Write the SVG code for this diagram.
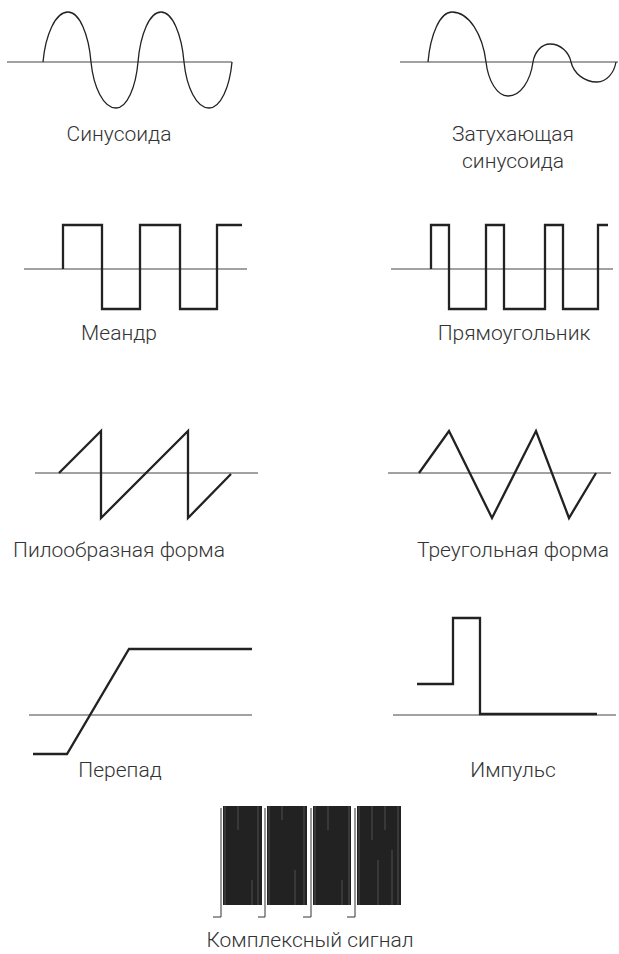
<svg xmlns="http://www.w3.org/2000/svg" width="619" height="954" viewBox="0 0 619 954">
<style>
.axis{stroke:#444;stroke-width:1;fill:none}
.wave{stroke:#222;stroke-width:1.3;fill:none}
.thick{stroke:#222;stroke-width:2.3;fill:none;stroke-linejoin:miter}
.lbl{font-family:Roboto,"Liberation Sans",sans-serif;font-weight:300;font-size:21px;fill:#333;text-anchor:middle}
.blk{fill:#222}
.streak{stroke:#9a9a9a;stroke-width:0.7;opacity:0.55}
.brk{stroke:#333;stroke-width:1;fill:none}
</style>
<rect width="619" height="954" fill="#fff"/>
<g id="sine">
<line class="axis" x1="7" y1="62" x2="232" y2="62"/>
<path class="wave" d="M43,62 C45.5,34.5 55.5,12 68,12 C79.5,12 88.7,34.5 91,62 C93.5,87.3 103.5,108 116,108 C127,108 135.8,87.3 138,62 C140.3,34.5 149.5,12 161,12 C172.5,12 181.7,34.5 184,62 C186.5,87.3 196.5,108 209,108 C220.5,108 229.7,87.3 232,62"/>
<text class="lbl" x="119" y="141">Синусоида</text>
</g>
<g id="damped">
<line class="axis" x1="400" y1="62" x2="618" y2="62"/>
<path class="wave" d="M428,62 C430.4,34.5 440,12 452,12 C469,12 482.6,34.5 486,62 C488.2,80.7 497,96 508,96 C520.5,96 530.5,80.7 533,62 C534.7,52.1 541.5,44 550,44 C560.5,44 568.9,52.1 571,62 C573.6,73 584,82 597,82 C606.5,82 614.1,73 616,62"/>
<text class="lbl" x="513" y="141">Затухающая</text>
<text class="lbl" x="513" y="168">синусоида</text>
</g>
<g id="meander">
<line class="axis" x1="24" y1="269" x2="247" y2="269"/>
<polyline class="thick" points="63,269 63,225 102,225 102,309 140,309 140,225 180,225 180,309 217,309 217,225 242,225"/>
<text class="lbl" x="119" y="340">Меандр</text>
</g>
<g id="rectangle">
<line class="axis" x1="391" y1="269" x2="613" y2="269"/>
<polyline class="thick" points="431,269 431,225 449,225 449,309 486,309 486,225 504,225 504,309 545,309 545,225 563,225 563,309 598,309 598,225 608,225"/>
<text class="lbl" x="514" y="340">Прямоугольник</text>
</g>
<g id="sawtooth">
<line class="axis" x1="35" y1="473" x2="258" y2="473"/>
<polyline class="thick" points="59,473 101,431 101,518 188,431 188,518 231,474"/>
<text class="lbl" x="119" y="557">Пилообразная форма</text>
</g>
<g id="triangle">
<line class="axis" x1="388" y1="473" x2="611" y2="473"/>
<polyline class="thick" points="419,473 449,431 492,518 536,431 569,518 596,473"/>
<text class="lbl" x="513" y="557">Треугольная форма</text>
</g>
<g id="step">
<line class="axis" x1="29" y1="715" x2="252" y2="715"/>
<polyline class="thick" points="33,754 67,754 129,649 252,649"/>
<text class="lbl" x="120" y="777">Перепад</text>
</g>
<g id="impulse">
<line class="axis" x1="393" y1="715" x2="616" y2="715"/>
<polyline class="thick" points="417,684 453,684 453,618 480,618 480,714 597,714"/>
<text class="lbl" x="513" y="777">Импульс</text>
</g>
<g id="complex">
<rect class="blk" x="223" y="806" width="39" height="99"/>
<rect class="blk" x="267" y="806" width="40" height="99"/>
<rect class="blk" x="313" y="806" width="38" height="99"/>
<rect class="blk" x="357" y="806" width="44" height="99"/>
<polyline class="brk" points="213,917 221,917 221,808"/>
<polyline class="brk" points="258,917 265,917 265,808"/>
<polyline class="brk" points="303,917 311,917 311,808"/>
<polyline class="brk" points="347,917 355,917 355,808"/>
<g class="streak">
<line x1="225" y1="806" x2="225" y2="905"/>
<line x1="238" y1="806" x2="238" y2="830"/>
<line x1="252" y1="880" x2="252" y2="905"/>
<line x1="258" y1="806" x2="258" y2="905"/>
<line x1="269" y1="806" x2="269" y2="905"/>
<line x1="282" y1="806" x2="282" y2="820"/>
<line x1="295" y1="870" x2="295" y2="905"/>
<line x1="304" y1="806" x2="304" y2="905"/>
<line x1="315" y1="806" x2="315" y2="905"/>
<line x1="328" y1="806" x2="328" y2="830"/>
<line x1="342" y1="880" x2="342" y2="905"/>
<line x1="349" y1="806" x2="349" y2="905"/>
<line x1="359" y1="806" x2="359" y2="905"/>
<line x1="372" y1="806" x2="372" y2="840"/>
<line x1="378" y1="860" x2="378" y2="905"/>
<line x1="385" y1="806" x2="385" y2="830"/>
<line x1="392" y1="850" x2="392" y2="905"/>
<line x1="398" y1="806" x2="398" y2="905"/>
</g>
<text class="lbl" x="310" y="947">Комплексный сигнал</text>
</g>
</svg>
